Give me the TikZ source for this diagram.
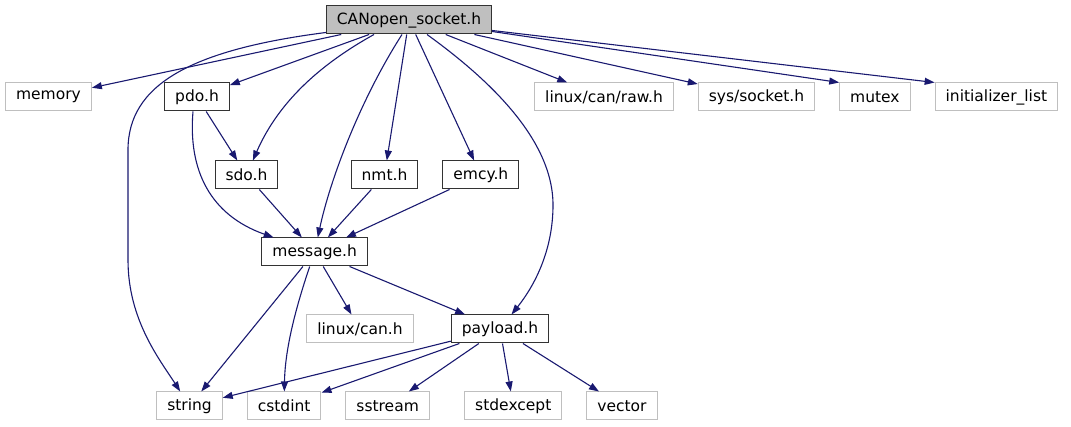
\documentclass[tikz,border=0pt]{standalone}
\usepackage{fontspec}
\setmainfont{DejaVu Sans}
\usepackage{xcolor}
\usetikzlibrary{arrows.meta, positioning}

\definecolor{edgeblue}{HTML}{191970}
\definecolor{sysgray}{HTML}{BFBFBF}

\begin{document}
\begin{tikzpicture}[
    x=1pt, y=-1pt,
    node distance=49pt and 24pt,
    box/.style={draw=black!80, line width=1pt, minimum height=28pt, inner xsep=10.5pt, inner ysep=0pt, font=\fontsize{15.5}{18}\selectfont},
    sysbox/.style={box, draw=sysgray},
    topbox/.style={box, fill=sysgray},
    arrow/.style={-{Triangle[length=10pt, width=7pt]}, edgeblue, line width=1.1pt}
]
    \useasboundingbox (0,0) rectangle (1071,427);

    \node[topbox] (socket) at (409,20) {CANopen\_socket.h};

    \node[sysbox] (memory) at (48.5,97) {memory};
    \node[box] (pdo) at (197,97) {pdo.h};
    \node[sysbox] (raw) at (604,97) {linux/can/raw.h};
    \node[sysbox, right=of raw] (syssocket) {sys/socket.h};
    \node[sysbox, right=of syssocket] (mutex) {mutex};
    \node[sysbox, right=of mutex] (initlist) {initializer\_list};

    \node[box] (sdo) at (246.5,175) {sdo.h};
    \node[box] (nmt) at (384.5,175) {nmt.h};
    \node[box, right=of nmt] (emcy) {emcy.h};

    \node[box] (message) at (314.7,252) {message.h};

    \node[sysbox] (linuxcan) at (360,329) {linux/can.h};
    \node[box] (payload) at (500,329) {payload.h};

    \node[sysbox] (string) at (189.5,406) {string};
    \node[sysbox, right=of string] (cstdint) {cstdint};
    \node[sysbox, right=of cstdint] (sstream) {sstream};
    \node[sysbox] (stdexcept) at (513.3,406) {stdexcept};
    \node[sysbox, right=of stdexcept] (vector) {vector};

    % CANopen_socket.h
    \draw[arrow] (socket) -- (memory);
    \draw[arrow] ([yshift=2pt]socket.south west) .. controls (190,50) and (128,85) .. (128,150)
        -- (128,260) .. controls (128,320) and (160,360) .. (string);
    \draw[arrow] (socket) -- (pdo);
    \draw[arrow] ([xshift=-35pt]socket.south) .. controls (310,70) and (275,110) .. (sdo);
    \draw[arrow] ([xshift=-7pt]socket.south) .. controls (360,100) and (330,180) .. (message);
    \draw[arrow] (socket) -- (nmt);
    \draw[arrow] (socket) -- (emcy);
    \draw[arrow] ([xshift=18pt]socket.south) .. controls (490,80) and (553,140) .. (553,205)
        .. controls (553,250) and (535,285) .. (payload);
    \draw[arrow] (socket) -- (raw);
    \draw[arrow] (socket) -- (syssocket);
    \draw[arrow] ([yshift=3pt]socket.south east) -- (mutex.north west);
    \draw[arrow] ([yshift=4pt]socket.south east) -- (initlist.north west);

    % includes below
    \draw[arrow] (pdo) -- (sdo);
    \draw[arrow] ([xshift=-4pt]pdo.south) .. controls (188,170) and (210,215) .. (message);
    \draw[arrow] (sdo) -- (message);
    \draw[arrow] (nmt) -- (message);
    \draw[arrow] (emcy) -- (message);

    \draw[arrow] (message) -- (string);
    \draw[arrow] ([xshift=-5pt]message.south) .. controls (295,310) and (285,350) .. (cstdint);
    \draw[arrow] (message) -- (linuxcan);
    \draw[arrow] (message) -- (payload);

    \draw[arrow] (payload) -- (string);
    \draw[arrow] (payload) -- (cstdint);
    \draw[arrow] (payload) -- (sstream);
    \draw[arrow] (payload) -- (stdexcept);
    \draw[arrow] (payload) -- (vector);
\end{tikzpicture}
\end{document}
